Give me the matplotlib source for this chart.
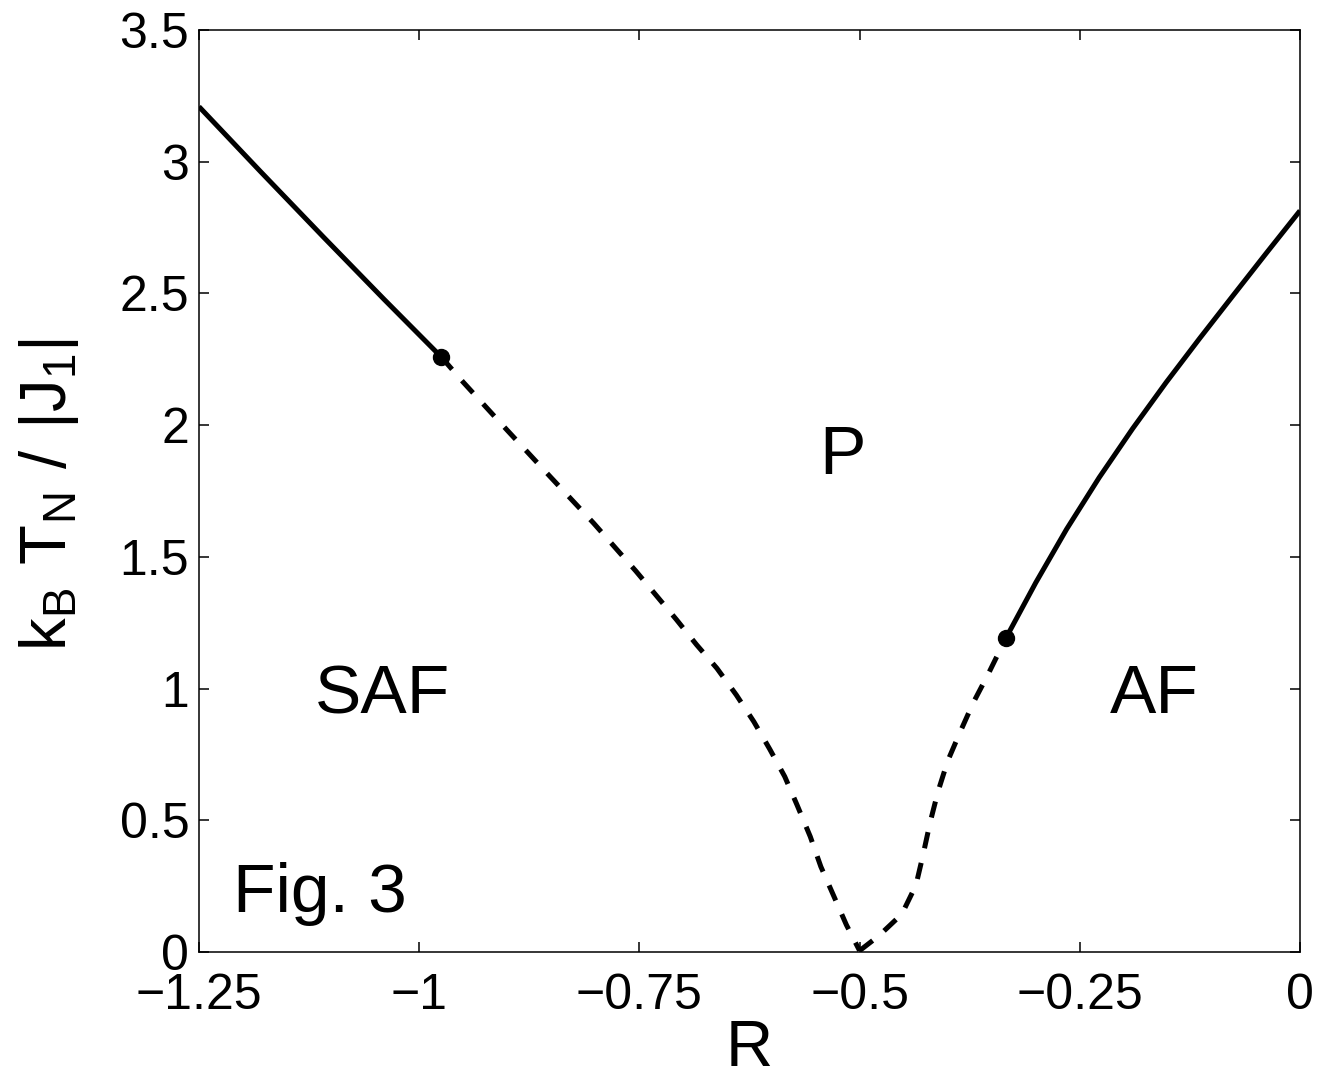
import numpy as np
import matplotlib
matplotlib.use("Agg")
import matplotlib.pyplot as plt

# --- data ---
# SAF boundary, solid (second order) part
saf_solid_R = [-1.25, -1.18, -1.109, -1.04, -0.975]
saf_solid_T = [3.209, 2.962, 2.715, 2.478, 2.259]

# SAF boundary, dashed part down to R = -0.5
saf_dash_R = [-0.975, -0.950, -0.901, -0.852, -0.802, -0.754, -0.708, -0.685,
              -0.662, -0.640, -0.620, -0.602, -0.585, -0.571, -0.556, -0.544,
              -0.529, -0.515, -0.500]
saf_dash_T = [2.259, 2.163, 1.984, 1.807, 1.628, 1.446, 1.262, 1.166,
              1.077, 0.976, 0.874, 0.770, 0.666, 0.558, 0.438, 0.324,
              0.210, 0.103, 0.005]

# AF boundary, dashed part from R = -0.5
af_dash_R = [-0.500, -0.478, -0.452, -0.436, -0.428, -0.420, -0.411, -0.400,
             -0.386, -0.371, -0.354, -0.334]
af_dash_T = [0.005, 0.062, 0.144, 0.254, 0.368, 0.491, 0.609, 0.725,
             0.834, 0.946, 1.055, 1.191]

# AF boundary, solid part
af_solid_R = [-0.334, -0.300, -0.265, -0.228, -0.190, -0.152, -0.114,
              -0.076, -0.038, 0.0]
af_solid_T = [1.191, 1.402, 1.605, 1.801, 1.987, 2.162, 2.329,
              2.492, 2.654, 2.814]

# tricritical points
dot_R = [-0.975, -0.334]
dot_T = [2.259, 1.191]

x_ticks = [-1.25, -1.0, -0.75, -0.5, -0.25, 0.0]
x_ticklabels = ['\u22121.25', '\u22121', '\u22120.75', '\u22120.5', '\u22120.25', '0']
y_ticks = [0, 0.5, 1, 1.5, 2, 2.5, 3, 3.5]
y_ticklabels = ['0', '0.5', '1', '1.5', '2', '2.5', '3', '3.5']

plt.rcParams['font.family'] = ['Liberation Sans', 'DejaVu Sans']
plt.rcParams['mathtext.default'] = 'regular'

fig = plt.figure(figsize=(13.22, 10.76), dpi=100)
ax = fig.add_axes([199 / 1322, 1 - 952 / 1076, 1101 / 1322, 922 / 1076])

lw = 3.6
ax.plot(saf_solid_R, saf_solid_T, color='k', lw=lw, solid_capstyle='butt')
ax.plot(af_solid_R, af_solid_T, color='k', lw=lw, solid_capstyle='butt')
ax.plot(saf_dash_R, saf_dash_T, color='k', lw=lw, dashes=(3.3, 3.0),
        dash_capstyle='butt')
ax.plot(af_dash_R, af_dash_T, color='k', lw=lw, dashes=(3.3, 3.0),
        dash_capstyle='butt')
ax.plot(dot_R, dot_T, 'o', color='k', markersize=11.5)

ax.set_xlim(-1.25, 0)
ax.set_ylim(0, 3.5)
ax.set_xticks(x_ticks)
ax.set_xticklabels(x_ticklabels)
ax.set_yticks(y_ticks)
ax.set_yticklabels(y_ticklabels)

ax.tick_params(direction='in', length=7, width=1.1, labelsize=36,
               top=True, right=True)
ax.tick_params(axis='x', pad=15)
ax.tick_params(axis='y', pad=7)
for s in ax.spines.values():
    s.set_linewidth(1.1)

ax.set_xlabel('R', fontsize=47)
ax.xaxis.set_label_coords(0.5, -0.073)
ax.set_ylabel(r'$k_B\ T_N\ /\ |J_1|$', fontsize=47)
ax.yaxis.set_label_coords(-0.107, 0.496)

ax.text(-0.519, 1.815, 'P', fontsize=50, ha='center', va='baseline')
ax.text(-1.042, 0.907, 'SAF', fontsize=50, ha='center', va='baseline')
ax.text(-0.165, 0.907, 'AF', fontsize=50, ha='center', va='baseline')
ax.text(-1.211, 0.152, 'Fig. 3', fontsize=50, ha='left', va='baseline')

fig.savefig('out.png', dpi=100)
